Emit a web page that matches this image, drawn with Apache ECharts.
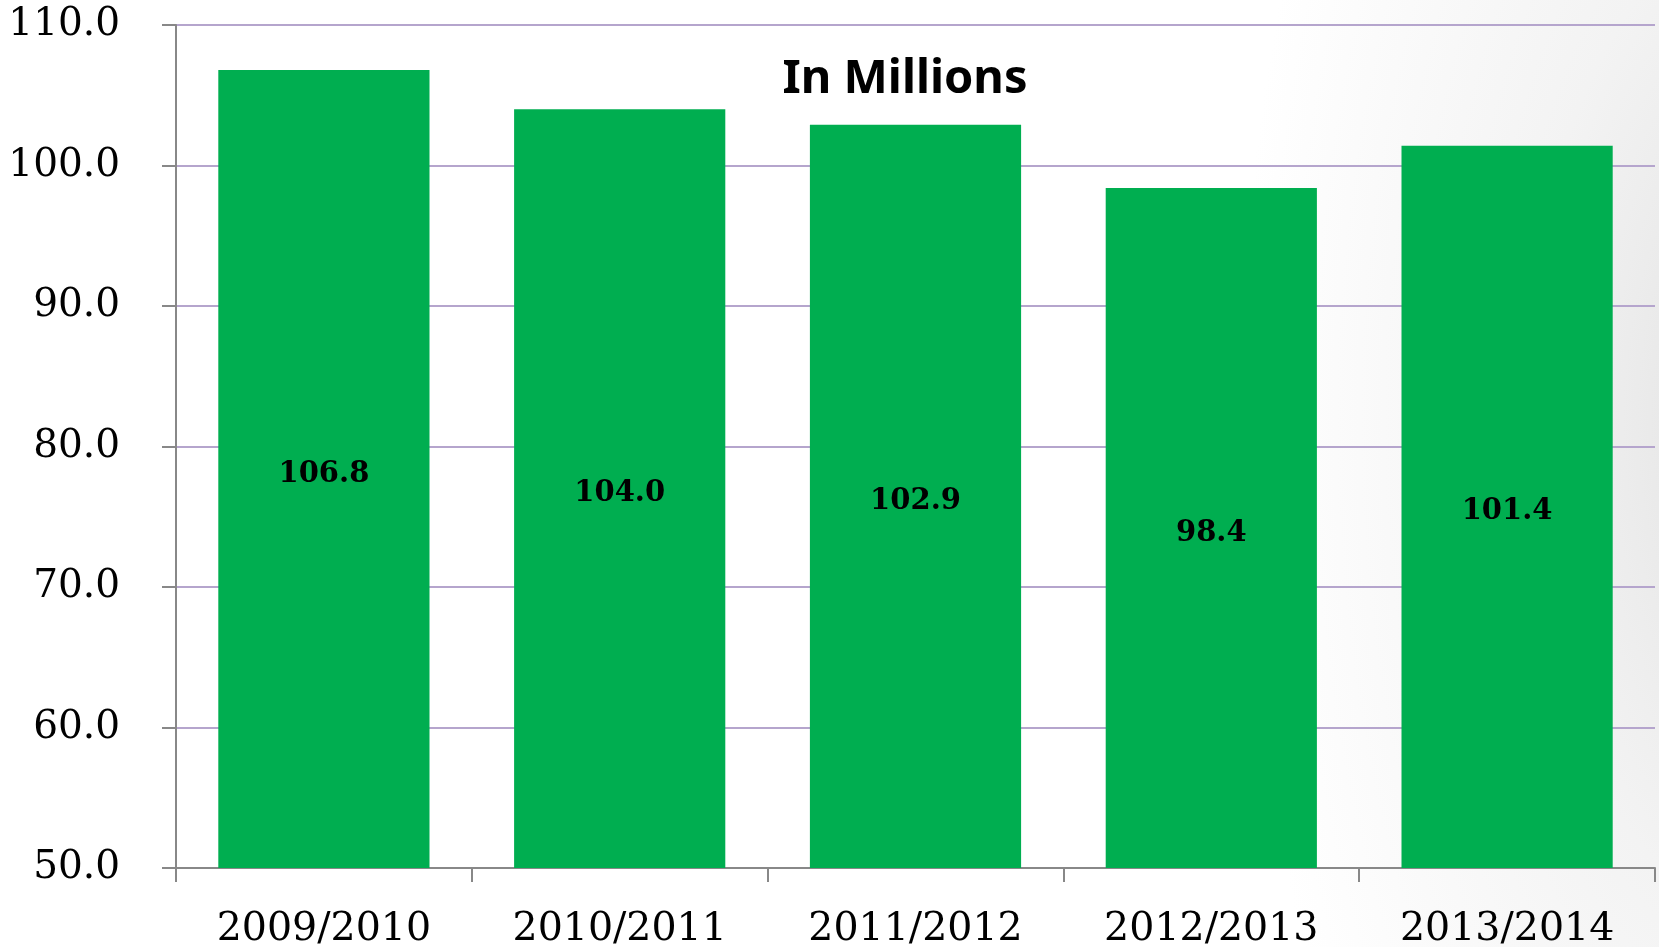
<!DOCTYPE html>
<html>
<head>
<meta charset="utf-8">
<script src="https://cdn.jsdelivr.net/npm/echarts@6/dist/echarts.min.js"></script>
<style>
html,body{margin:0;padding:0;}
body{width:1659px;height:947px;overflow:hidden;
background: radial-gradient(ellipse 520px 1100px at 1760px 420px, #e2e2e2 0%, #f3f3f3 45%, #ffffff 100%);}
#chart{width:1659px;height:947px;}
</style>
</head>
<body>
<div id="chart"></div>
<script>
const categories = ['2009/2010', '2010/2011', '2011/2012', '2012/2013', '2013/2014'];
const values = [106.8, 104.0, 102.9, 98.4, 101.4];
const yTicks = { min: 50, max: 110, interval: 10 };
const titleText = 'In Millions';

const chart = echarts.init(document.getElementById('chart'), null, { renderer: 'canvas' });
chart.setOption({
  backgroundColor: 'transparent',
  animation: false,
  grid: { left: 176, right: 4, top: 25, bottom: 79, containLabel: false, outerBoundsMode: 'none' },
  graphic: [{
    type: 'text', x: 905, y: 80,
    style: { text: titleText, fill: '#000', font: 'bold 47px "Noto Sans", "Open Sans", sans-serif',
      textAlign: 'center', textVerticalAlign: 'middle' }
  }],
  xAxis: {
    type: 'category', data: categories, boundaryGap: true,
    axisLine: { show: true, lineStyle: { color: '#888888', width: 2 } },
    axisTick: { show: true, length: 14, lineStyle: { color: '#888888', width: 2 } },
    axisLabel: { color: '#000', fontFamily: '"DejaVu Serif", serif', fontSize: 39.5, margin: 42 },
    splitLine: { show: false }
  },
  yAxis: {
    type: 'value', min: yTicks.min, max: yTicks.max, interval: yTicks.interval,
    axisLine: { show: true, lineStyle: { color: '#888888', width: 2 } },
    axisTick: { show: true, length: 14, lineStyle: { color: '#888888', width: 2 } },
    axisLabel: { color: '#000', fontFamily: '"DejaVu Serif", serif', fontSize: 39, margin: 56,
      formatter: v => v.toFixed(1) },
    splitLine: { show: true, lineStyle: { color: '#b5a5cd', width: 2 } }
  },
  series: [{
    type: 'bar', data: values, barWidth: '71.4%',
    itemStyle: { color: '#00ae50' },
    label: { show: true, position: 'inside', offset: [0, 5], color: '#000',
      fontFamily: '"DejaVu Serif", serif', fontWeight: 'bold', fontSize: 29,
      formatter: p => p.value.toFixed(1) }
  }]
});
</script>
</body>
</html>
